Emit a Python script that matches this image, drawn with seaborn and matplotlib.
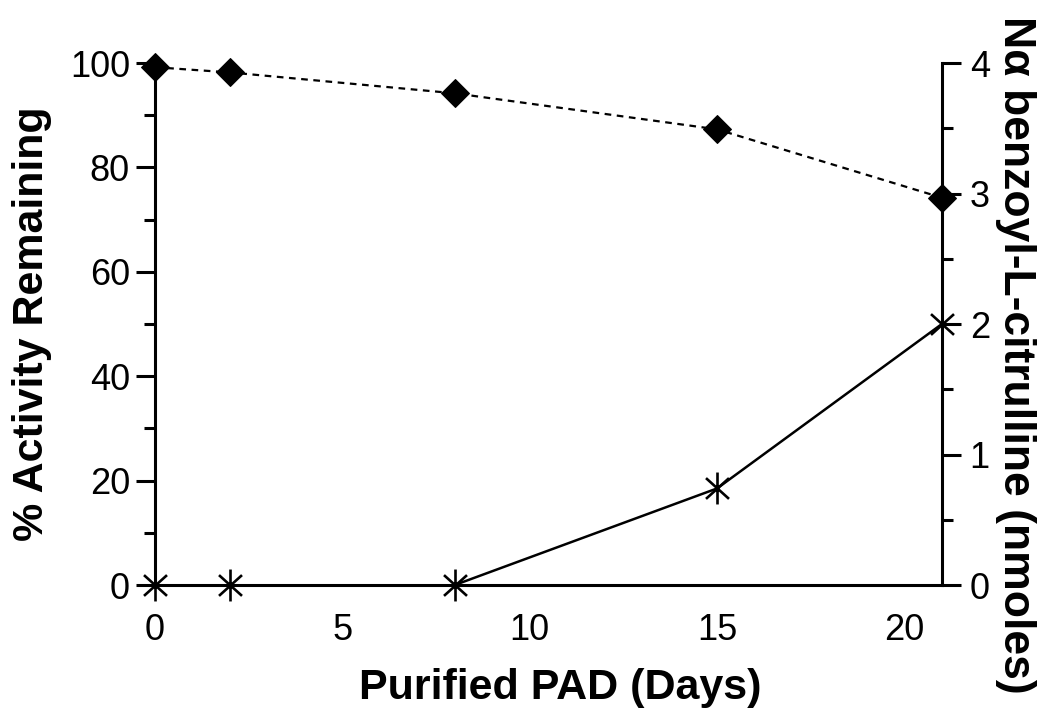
import numpy as np
import pandas as pd
import seaborn as sns
import matplotlib
matplotlib.use("Agg")
import matplotlib.pyplot as plt
from matplotlib.path import Path
from matplotlib.ticker import MultipleLocator

days = [0, 2, 8, 15, 21]
activity = [99.2, 98.2, 94.2, 87.3, 74.2]
citrulline = [0.0, 0.0, 0.0, 0.74, 2.0]

sns.set_theme(style="white")
plt.rcParams['font.family'] = ['Liberation Sans', 'DejaVu Sans']
plt.rcParams['text.color'] = 'black'
plt.rcParams['axes.labelcolor'] = 'black'
plt.rcParams['xtick.color'] = 'black'
plt.rcParams['ytick.color'] = 'black'

fig = plt.figure(figsize=(10.5, 7.27), dpi=100)
ax = fig.add_axes([0.1476, 0.1953, 0.7494, 0.718])
ax2 = ax.twinx()

star = Path([(0, -1), (0, 1), (-0.72, -0.65), (0.72, 0.65), (-0.72, 0.65), (0.72, -0.65)],
            [Path.MOVETO, Path.LINETO, Path.MOVETO, Path.LINETO, Path.MOVETO, Path.LINETO])

df = pd.DataFrame({"days": days, "activity": activity, "cit": citrulline})

sns.lineplot(data=df, x="days", y="activity", ax=ax, color="black", lw=1.6,
             linestyle=(0, (3, 2.5)), marker="D", markersize=14,
             markeredgecolor="black", markerfacecolor="black", zorder=5, clip_on=False)

sns.lineplot(data=df.iloc[2:], x="days", y="cit", ax=ax2, color="black", lw=1.8, zorder=5)
ax2.plot(df["days"], df["cit"], linestyle="none", marker=star, markersize=23,
         markeredgecolor="black", markeredgewidth=1.9, clip_on=False, zorder=6)

ax.set_xlim(0, 21)
ax.set_ylim(0, 100)
ax2.set_ylim(0, 4)

for a in (ax, ax2):
    a.set_facecolor("none")
    for s in a.spines.values():
        s.set_linewidth(2.2)
        s.set_color("black")
    a.spines["top"].set_visible(False)
    a.tick_params(which="major", length=14, width=2.2, direction="out", labelsize=26,
                  color="black", labelcolor="black")
    a.tick_params(which="minor", length=8, width=2.2, direction="out", color="black")

ax.spines["right"].set_visible(False)
ax2.spines["left"].set_visible(False)
ax2.spines["bottom"].set_visible(False)

ax.set_xticks([0, 5, 10, 15, 20])
ax.xaxis.set_minor_locator(MultipleLocator(1))
ax.set_yticks([0, 20, 40, 60, 80, 100])
ax.yaxis.set_minor_locator(MultipleLocator(10))
ax2.set_yticks([0, 1, 2, 3, 4])
ax2.yaxis.set_minor_locator(MultipleLocator(0.5))
ax.tick_params(axis="x", pad=6)
ax.tick_params(axis="y", pad=4)
ax2.tick_params(axis="y", pad=6)

ax.set_xlabel("Purified PAD (Days)", fontsize=31, fontweight="bold", va="center")
ax.set_ylabel("% Activity Remaining", fontsize=31, fontweight="bold", va="center")
ax2.set_ylabel("N\u03b1 benzoyl-L-citrulline (nmoles)", fontsize=32, fontweight="bold",
               rotation=270, va="center")
ax.xaxis.set_label_coords(0.515, -0.197)
ax.yaxis.set_label_coords(-0.156, 0.5)
ax2.yaxis.set_label_coords(1.093, 0.44)

fig.savefig("out.png", dpi=100, facecolor="white")
